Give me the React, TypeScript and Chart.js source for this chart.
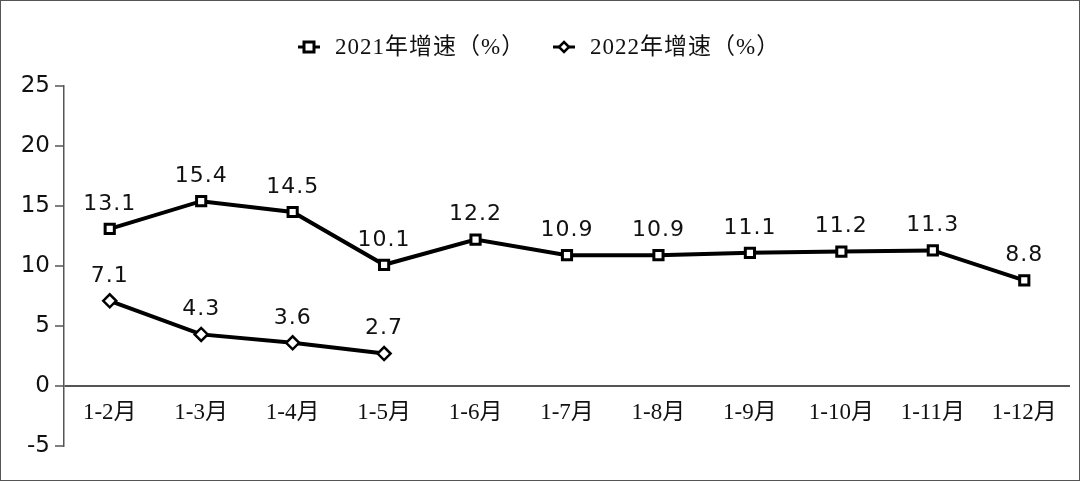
import { useEffect, useRef } from 'react';
import { Chart, registerables } from 'chart.js';
Chart.register(...registerables);

const months = ['1-2月', '1-3月', '1-4月', '1-5月', '1-6月', '1-7月', '1-8月', '1-9月', '1-10月', '1-11月', '1-12月'];
const growth2021 = [13.1, 15.4, 14.5, 10.1, 12.2, 10.9, 10.9, 11.1, 11.2, 11.3, 8.8];
const growth2022 = [7.1, 4.3, 3.6, 2.7, null, null, null, null, null, null, null];
const seriesNames = ['2021年增速（%）', '2022年增速（%）'];
const yTicks = { min: -5, max: 25, step: 5 };

const serif = '"Liberation Serif", "DejaVu Serif", "Noto Sans CJK SC", serif';
const sans = '"DejaVu Sans", Verdana, sans-serif';

// value labels above each point
const valueLabels = {
  id: 'valueLabels',
  afterDatasetsDraw(chart: Chart) {
    const ctx = chart.ctx;
    ctx.save();
    ctx.font = `22px ${sans}`;
    (ctx as any).letterSpacing = '1px';
    ctx.fillStyle = '#111';
    ctx.textAlign = 'center';
    ctx.textBaseline = 'middle';
    chart.data.datasets.forEach((ds, i) => {
      chart.getDatasetMeta(i).data.forEach((pt, j) => {
        const v = ds.data[j] as number | null;
        if (v == null) return;
        ctx.fillText(v.toFixed(1), pt.x, pt.y - 25);
      });
    });
    ctx.restore();
  },
};

// legend: short line + marker + text
const topLegend = {
  id: 'topLegend',
  afterDraw(chart: Chart) {
    const ctx = chart.ctx;
    const y = 47;
    const items = [
      { x: 298, style: 'rect', text: seriesNames[0] },
      { x: 553, style: 'rectRot', text: seriesNames[1] },
    ];
    ctx.save();
    items.forEach(it => {
      ctx.strokeStyle = '#000';
      ctx.lineWidth = 3;
      ctx.beginPath();
      ctx.moveTo(it.x, y);
      ctx.lineTo(it.x + 22, y);
      ctx.stroke();
      const cx = it.x + 11;
      ctx.fillStyle = '#fff';
      ctx.lineWidth = it.style === 'rect' ? 3 : 2.5;
      ctx.beginPath();
      if (it.style === 'rect') {
        ctx.rect(cx - 5, y - 5, 10, 10);
      } else {
        ctx.moveTo(cx, y - 5);
        ctx.lineTo(cx + 5, y);
        ctx.lineTo(cx, y + 5);
        ctx.lineTo(cx - 5, y);
        ctx.closePath();
      }
      ctx.fill();
      ctx.stroke();
      ctx.fillStyle = '#111';
      ctx.font = `23px ${serif}`;
      (ctx as any).letterSpacing = '1px';
      ctx.textAlign = 'left';
      ctx.textBaseline = 'middle';
      ctx.fillText(it.text, it.x + 37, y + 1);
      (ctx as any).letterSpacing = '0px';
    });
    ctx.restore();
  },
};

export default function App() {
  const ref = useRef<HTMLCanvasElement>(null);

  useEffect(() => {
    document.body.style.margin = '0';
    const chart = new Chart(ref.current!, {
      type: 'line',
      data: {
        labels: months,
        datasets: [
          {
            label: seriesNames[0], data: growth2021,
            borderColor: '#000', borderWidth: 4, backgroundColor: '#fff',
            pointStyle: 'rect', pointRadius: 6.5, pointBorderWidth: 3, pointBorderColor: '#000', pointBackgroundColor: '#fff',
          },
          {
            label: seriesNames[1], data: growth2022,
            borderColor: '#000', borderWidth: 4, backgroundColor: '#fff',
            pointStyle: 'rectRot', pointRadius: 6.5, pointBorderWidth: 2.5, pointBorderColor: '#000', pointBackgroundColor: '#fff',
          },
        ],
      },
      options: {
        animation: false,
        responsive: false,
        devicePixelRatio: 1,
        layout: { padding: { top: 86, right: 10, bottom: 35, left: 0 } },
        plugins: { legend: { display: false }, tooltip: { enabled: false } },
        scales: {
          x: {
            position: { y: 0 },
            offset: true,
            border: { display: false },
            grid: { display: false },
            ticks: { color: '#111', font: { family: serif, size: 23 }, padding: 5, maxRotation: 0, autoSkip: false },
          },
          y: {
            min: yTicks.min, max: yTicks.max,
            border: { display: true, color: '#555', width: 1.5 },
            grid: {
              drawOnChartArea: true,
              color: (c: any) => (c.tick && c.tick.value === 0 ? '#555' : 'rgba(0,0,0,0)'),
              lineWidth: 2,
              tickColor: '#555', tickLength: 9, tickWidth: 1.5,
            },
            ticks: { stepSize: yTicks.step, color: '#111', font: { family: sans, size: 23 }, padding: 5 },
            afterFit: (s: any) => { s.width = 64; },
          },
        },
      },
      plugins: [valueLabels, topLegend],
    });
    return () => chart.destroy();
  }, []);

  return (
    <div style={{ position: 'relative', width: 1080, height: 481, background: '#fff' }}>
      <canvas ref={ref} width={1080} height={481} style={{ display: 'block' }} />
      <div style={{ position: 'absolute', inset: 0, border: '1.5px solid #555', pointerEvents: 'none' }} />
    </div>
  );
}
